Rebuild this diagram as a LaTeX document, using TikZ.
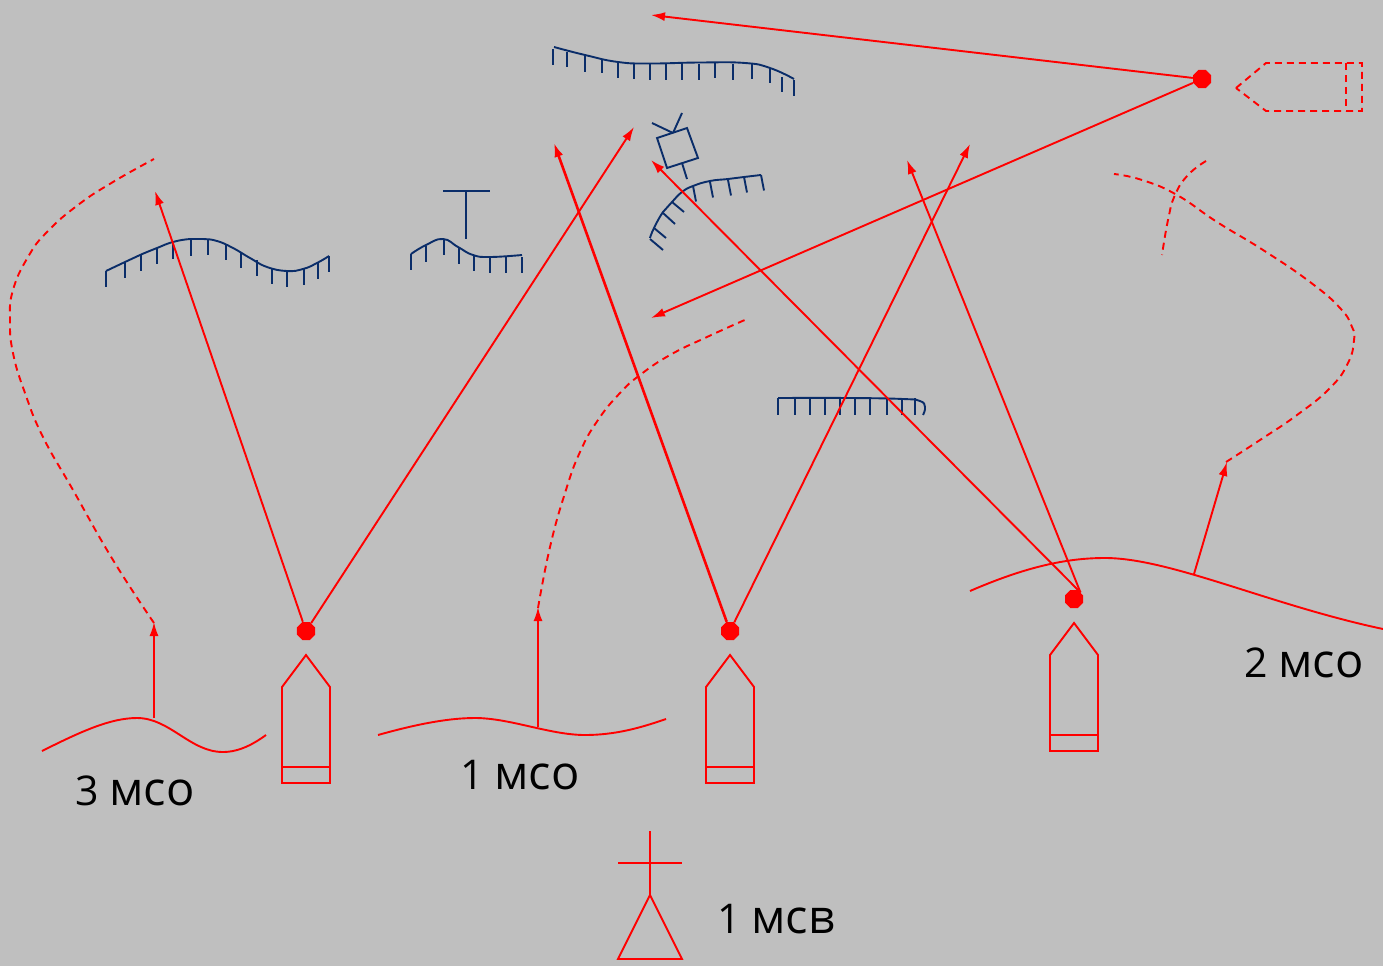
\documentclass[tikz,border=0pt]{standalone}
\usepackage{fontspec}
\setmainfont{Open Sans}
\usetikzlibrary{arrows.meta,shapes.geometric}
\definecolor{ridgeblue}{RGB}{10,45,105}
\definecolor{paper}{RGB}{191,191,191}
\newcommand{\unitname}[2]{{\fontsize{41}{41}\selectfont #1 }{\fontsize{47}{47}\selectfont #2}}
\tikzset{
  redline/.style={draw=red,line width=1.9pt},
  fire/.style={redline,-{Latex[length=14pt,width=9pt]}},
  dashline/.style={redline,dash pattern=on 7pt off 5pt},
  ridge/.style={draw=ridgeblue,line width=1.9pt},
  muzzle/.style={regular polygon,regular polygon sides=8,fill=red,inner sep=0pt,minimum size=19.5pt},
  unitlabel/.style={anchor=base west,inner sep=0pt},
}
\begin{document}
\begin{tikzpicture}[x=1pt,y=-1pt]
\fill[paper] (0,0) rectangle (1383,966);
\useasboundingbox (0,0) rectangle (1383,966);
% ridges
\draw[ridge] plot[smooth,tension=.8] coordinates {(554,47) (585,55) (618,62) (650,63.5) (700,62.5) (745,63) (770,68) (794,79)};
\foreach \x/\y/\l in {553/49/16,567/52/15,585/55/17,602/59/14,618/62/16,634/63/16,650/64/16,666/64/16,682/64/16,699/64/16,715/63/15,733/64/16,752/64/15,770/68/15,782/77/15,794/80/16}
  \draw[ridge] (\x,\y) -- ++(0,\l);
\draw[ridge] plot[smooth,tension=.8] coordinates {(650,238) (654,228) (663,212) (672,202) (682,192) (693,186) (710,181) (728,179) (744,177) (761,175)};
\draw[ridge] (650,239) -- (663,250);
\draw[ridge] (654,228) -- (666,238);
\draw[ridge] (663,213) -- (675,224);
\draw[ridge] (672,202) -- (684,212);
\foreach \x/\y in {693/186,710/182,728/180,744/177,761/175}
  \draw[ridge] (\x,\y) -- ++(3,15.5);
\draw[ridge] plot[smooth,tension=.8] coordinates {(106,271) (125,262) (140,255) (157,248) (173,242) (190,239) (203,239) (217,241) (233,248) (250,258) (267,267) (287,271) (303,269) (317,263) (329,256)};
\foreach \x/\y in {106/271,125/262,141/255,157/248,173/243,191/240,208/239,226/244,241/252,257/260,272/268,287/271,304/269,318/263,329/256}
  \draw[ridge] (\x,\y) -- ++(0,16);
\draw[ridge] plot[smooth,tension=.8] coordinates {(411,254) (426,245) (443,239) (458,247) (473,255) (490,257) (522,255)};
\foreach \x/\y in {411/254,426/246,444/239,459/248,474/255,490/257,506/257,522/257}
  \draw[ridge] (\x,\y) -- ++(0,16);
\draw[ridge] plot[smooth,tension=.8] coordinates {(778,398) (850,398) (903,399) (920,401) (925,407) (923,415)};
\foreach \x in {778,795,810,825,840,855,870,887,902,915}
  \draw[ridge] (\x,398) -- ++(0,17);
% observation post
\draw[ridge] (443,191) -- (490,191);
\draw[ridge] (466,191) -- (466,239);
% radar
\draw[ridge] (657,138) -- (687,128) -- (698,158) -- (667,168) -- cycle;
\draw[ridge] (673,133) -- (652,123);
\draw[ridge] (673,133) -- (682,113);
\draw[ridge] (682,163) -- (687,179);
% ships
\foreach \x in {0,424}
  \draw[redline,shift={(\x,0)}] (282,687) -- (306,655) -- (330,687) -- (330,783) -- (282,783) -- cycle (282,767) -- (330,767);
\draw[redline] (1050,655) -- (1074,623) -- (1098,655) -- (1098,751) -- (1050,751) -- cycle (1050,735) -- (1098,735);
\draw[dashline] (1236,88) -- (1266,63) -- (1362,63) -- (1362,111) -- (1266,111) -- cycle;
\draw[dashline] (1346,63) -- (1346,111);
% waves
\draw[redline] (42,751) .. controls (80,732) and (110,718) .. (137,718) .. controls (170,718) and (190,752) .. (223,752) .. controls (240,752) and (255,743) .. (266,735);
\draw[redline] (378,735) .. controls (410,726) and (445,718) .. (475,718) .. controls (510,718) and (550,735) .. (585,735) .. controls (615,735) and (640,728) .. (666,719);
\draw[redline] (970,591) .. controls (1030,565) and (1070,558) .. (1105,558) .. controls (1170,558) and (1270,605) .. (1383,629);
% firing positions
\node[muzzle] (dotA) at (306,631) {};
\node[muzzle] (dotB) at (730,631) {};
\node[muzzle] (dotC) at (1074,599) {};
\node[muzzle] (dotD) at (1202,79) {};
\coordinate (tipAa) at (155,191);
\coordinate (tipAb) at (634,127);
\coordinate (tipBa) at (554,143);
\coordinate (tipBb) at (970,144);
\coordinate (tipCa) at (651,160);
\coordinate (tipCb) at (907,160);
\coordinate (tipDa) at (651,15);
\coordinate (tipDb) at (651,318);
\draw[fire] (dotA) -- (tipAa);
\draw[fire] (dotA) -- (tipAb);
\draw[fire,line width=2.6pt] (dotB) -- (tipBa);
\draw[fire] (dotB) -- (tipBb);
\draw[fire] (dotC.45) -- (tipCa);
\draw[fire] (dotC.45) -- (tipCb);
\draw[fire] (dotD) -- (tipDa);
\draw[fire] (dotD) -- (tipDb);
% moves
\coordinate (baseA) at (154,718);
\coordinate (headA) at (154,622);
\coordinate (baseB) at (538,727);
\coordinate (headB) at (538,607);
\coordinate (baseC) at (1194,574);
\coordinate (headC) at (1227,462);
\draw[fire] (baseA) -- (headA);
\draw[fire] (baseB) -- (headB);
\draw[fire] (baseC) -- (headC);
\draw[dashline] plot[smooth,tension=.8] coordinates {(154,623) (113,560) (73,490) (43,437) (25,393) (13,353) (10,320) (13,290) (28,257) (47,232) (78,205) (113,182) (154,159)};
\draw[dashline] plot[smooth,tension=.8] coordinates {(538,608) (550,547) (565,493) (580,452) (598,420) (620,393) (640,375) (670,355) (707,337) (747,319)};
\draw[dashline] plot[smooth,tension=.8] coordinates {(1226,462) (1260,440) (1297,415) (1330,388) (1348,363) (1354,340) (1352,327) (1340,308) (1310,282) (1263,250) (1217,222) (1177,195) (1142,180) (1114,174)};
\draw[dashline] plot[smooth,tension=.8] coordinates {(1206,161) (1188,175) (1175,195) (1168,220) (1162,255)};
% command post
\draw[redline] (650,831) -- (650,895);
\draw[redline] (618,863) -- (682,863);
\draw[redline] (650,895) -- (618,959) -- (682,959) -- cycle;
% labels
\node[unitlabel] (labelA) at (75,805) {\unitname{3}{мсо}};
\node[unitlabel] (labelB) at (460,789) {\unitname{1}{мсо}};
\node[unitlabel] (labelC) at (1244,677) {\unitname{2}{мсо}};
\node[unitlabel] (labelD) at (717,933) {\unitname{1}{мсв}};
\end{tikzpicture}
\end{document}
